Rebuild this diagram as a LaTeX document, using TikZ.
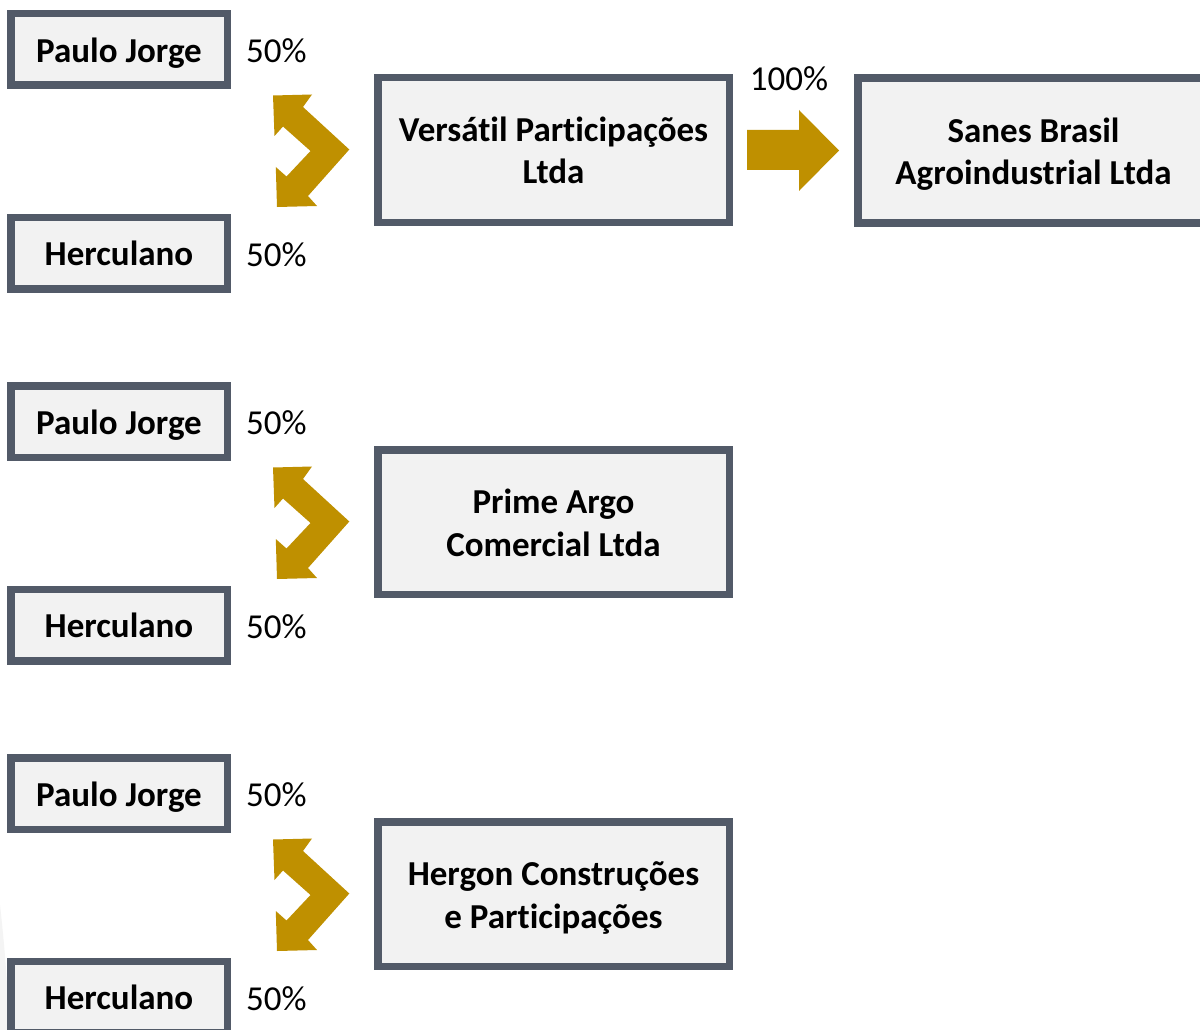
\documentclass[tikz,border=0pt]{standalone}
\usepackage{fontspec}
\setmainfont{Carlito}[Ligatures={NoCommon,NoContextual,NoRequired},Contextuals=NoAlternate]
\definecolor{bord}{HTML}{525A68}
\definecolor{boxfill}{HTML}{F2F2F2}
\definecolor{gold}{HTML}{BF9000}
\newcommand\lnst{\rule[-8.5pt]{0pt}{42.5pt}}
\newcommand\nolig{\kern0pt\relax}
\tikzset{
  box/.style={draw=bord, fill=boxfill, line width=7.5pt, inner sep=0pt, align=center, text=black,
    font=\bfseries\fontsize{35}{42.5}\selectfont},
  person/.style={box, minimum width=216.5pt, minimum height=71.5pt},
  company/.style={box, minimum width=351.5pt, minimum height=144.5pt},
  pct/.style={anchor=west, inner sep=0pt, text=black, font=\fontsize{35}{42}\selectfont},
  goldarrow/.style={fill=gold, draw=none}
}
\begin{document}
\begin{tikzpicture}[x=1pt, y=-1pt]
\useasboundingbox (0,0) rectangle (1200,1030);
\fill[white] (0,0) rectangle (1200,1030);
\fill[gray!9] (0,905) .. controls (5,950) and (8,990) .. (9,1030) -- (0,1030) -- cycle;

\foreach \g/\off/\comp in {1/0/{\lnst Versát\nolig il Part\nolig icipações\\\lnst Ltda}, 2/372/{\lnst Prime Argo\\\lnst Comercial Ltda}, 3/744/{\lnst Hergon Construções\\\lnst e Part\nolig icipações}}{
  \begin{scope}[shift={(0,\off)}]
    \node[person] (pj\g) at (119,49.5) {\lnst Paulo Jorge};
    \node[person] (he\g) at (119,253) {\lnst Herculano};
    \node[pct] (pjp\g) at (246,51) {50\%};
    \node[pct] (hep\g) at (246,254.5) {50\%};
    \node[company] (co\g) at (553.5,150) {\comp};
    \fill[goldarrow] (273,95.5) -- (312,94.5) -- (303,107) -- (349.3,149.5) -- (308,196)
      -- (317,206) -- (277,207) -- (275.8,167) -- (286.5,176.5) -- (310.5,151)
      -- (283,126.5) -- (274.5,136) -- cycle;
  \end{scope}
}

\node[company] (sanes) at (1033.5,150.5) {\lnst Sanes Brasil\\\lnst Agroindustrial Ltda};
\node[anchor=center, inner sep=0pt, text=black, font=\fontsize{35}{42}\selectfont] (p100) at (789,79) {100\%};
\fill[goldarrow] (747,130) -- (799,130) -- (799,110) -- (839,150.5) -- (799,191) -- (799,170) -- (747,170) -- cycle;
\end{tikzpicture}
\end{document}
